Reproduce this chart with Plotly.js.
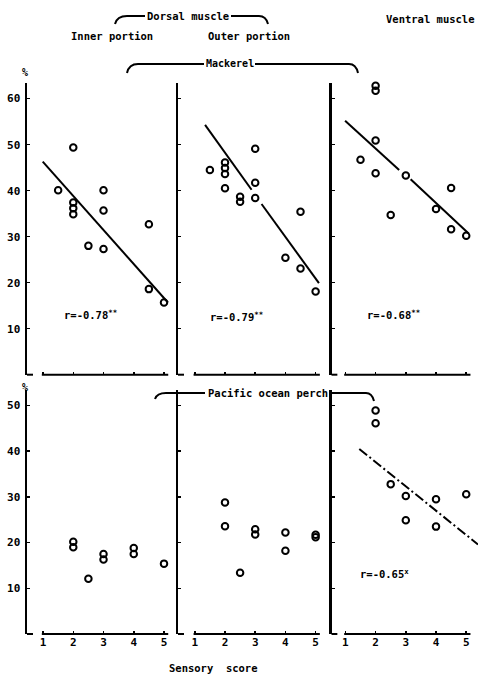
<!DOCTYPE html>
<html><head><meta charset="utf-8">
<script src="https://cdn.plot.ly/plotly-3.0.1.min.js"></script>
<style>body{margin:0;background:#fff}#chart{width:478px;height:675px}</style>
</head><body><div id="chart"></div>
<script>
// ---- tick labels ----
const scoreTicks = [1, 2, 3, 4, 5];
const mackerelYTicks = [10, 20, 30, 40, 50, 60];
const perchYTicks = [10, 20, 30, 40, 50];

// ---- Mackerel, dorsal inner portion ----
const mkInnerX = [1.5, 2, 2, 2, 2, 2.5, 3, 3, 3, 4.5, 4.5, 5];
const mkInnerY = [40.1, 49.4, 37.4, 36.2, 34.9, 28.0, 40.1, 35.7, 27.3, 32.7, 18.6, 15.7];
const mkInnerFitX = [0.99, 5.13];
const mkInnerFitY = [46.3, 15.7];

// ---- Mackerel, dorsal outer portion ----
const mkOuterX = [2, 1.5, 2, 2, 2, 2, 2.5, 2.5, 3, 3, 3, 4.5, 4, 4.5, 5];
const mkOuterY = [64.1, 44.5, 46.1, 44.9, 43.6, 40.5, 38.7, 37.6, 49.1, 41.7, 38.4, 35.4, 25.4, 23.1, 18.1];
const mkOuterFitX = [1.34, 2.88, null, 3.21, 5.11];
const mkOuterFitY = [54.3, 40.2, null, 37.1, 19.9];

// ---- Mackerel, ventral muscle ----
const mkVentX = [2, 2, 2, 1.5, 2, 2.5, 3, 4, 4.5, 4.5, 5];
const mkVentY = [62.8, 61.7, 50.9, 46.7, 43.8, 34.7, 43.3, 36.0, 40.6, 31.6, 30.2];
const mkVentFitX = [0.99, 2.78, null, 3.16, 5.08];
const mkVentFitY = [55.2, 44.5, null, 42.5, 30.7];

// ---- Pacific ocean perch, dorsal inner ----
const pInnerX = [2, 2, 2.5, 3, 3, 4, 4, 5];
const pInnerY = [20.2, 19.0, 12.1, 17.5, 16.3, 18.8, 17.5, 15.4];

// ---- Pacific ocean perch, dorsal outer ----
const pOuterX = [2, 2, 2.5, 3, 3, 4, 4, 5, 5];
const pOuterY = [28.8, 23.6, 13.4, 22.9, 21.8, 22.2, 18.2, 21.7, 21.2];

// ---- Pacific ocean perch, ventral ----
const pVentX = [2, 2, 2.5, 3, 3, 4, 4, 5];
const pVentY = [48.9, 46.1, 32.8, 30.2, 24.9, 29.5, 23.5, 30.6];
const pVentFitX = [1.46, 5.39];
const pVentFitY = [40.5, 19.6];

const rLabels = ['r=-0.78<sup>**</sup>', 'r=-0.79<sup>**</sup>', 'r=-0.68<sup>**</sup>', 'r=-0.65<sup>x</sup>'];

// ---- layout helpers ----
const W = 478, H = 675;
const FAM = 'DejaVu Sans Mono, monospace';
const font = (s) => ({family: FAM, size: s, color: '#000', weight: 'bold'});
const px = (x) => x / W;
const py = (y) => 1 - y / H;

const pts = (x, y, xa, ya) => ({
  x, y, xaxis: xa, yaxis: ya, type: 'scatter', mode: 'markers', cliponaxis: false,
  marker: {symbol: 'circle-open', size: 6.5, color: '#000', line: {width: 2, color: '#000'}},
  hoverinfo: 'skip', showlegend: false
});
const fit = (x, y, xa, ya, dash) => ({
  x, y, xaxis: xa, yaxis: ya, type: 'scatter', mode: 'lines', cliponaxis: true,
  line: {color: '#000', width: 2, dash: dash || 'solid'}, connectgaps: false,
  hoverinfo: 'skip', showlegend: false
});

const data = [
  pts(mkInnerX, mkInnerY, 'x', 'y'), fit(mkInnerFitX, mkInnerFitY, 'x', 'y'),
  pts(mkOuterX, mkOuterY, 'x2', 'y2'), fit(mkOuterFitX, mkOuterFitY, 'x2', 'y2'),
  pts(mkVentX, mkVentY, 'x3', 'y3'), fit(mkVentFitX, mkVentFitY, 'x3', 'y3'),
  pts(pInnerX, pInnerY, 'x4', 'y4'),
  pts(pOuterX, pOuterY, 'x5', 'y5'),
  pts(pVentX, pVentY, 'x6', 'y6'), fit(pVentFitX, pVentFitY, 'x6', 'y6', '10px,3px,2px,3px')
];

const colX = [
  {dom: [px(27), px(177)], range: [0.47, 5.43]},
  {dom: [px(178), px(328)], range: [0.444, 5.41]},
  {dom: [px(331.5), 1], range: [0.54, 5.39]}
];
const rowY = [
  {dom: [py(374.7), py(83)], range: [0, 63.4], ticks: mackerelYTicks},
  {dom: [py(634), py(390)], range: [0, 53.4], ticks: perchYTicks}
];

const layout = {
  width: W, height: H,
  margin: {l: 0, r: 0, t: 0, b: 0},
  paper_bgcolor: '#fff', plot_bgcolor: 'rgba(0,0,0,0)',
  showlegend: false,
  font: font(11),
  annotations: [], shapes: []
};

for (let r = 0; r < 2; r++) {
  for (let c = 0; c < 3; c++) {
    const i = r * 3 + c + 1;
    const xk = i === 1 ? 'xaxis' : 'xaxis' + i;
    const yk = i === 1 ? 'yaxis' : 'yaxis' + i;
    const xr = i === 1 ? 'x' : 'x' + i;
    const yr = i === 1 ? 'y' : 'y' + i;
    layout[xk] = {
      domain: colX[c].dom, range: colX[c].range, anchor: yr,
      showgrid: false, zeroline: false, showline: false,
      tickmode: 'array', tickvals: scoreTicks, ticktext: scoreTicks.map(String),
      ticks: 'inside', ticklen: 3, tickwidth: 1.5, tickcolor: '#000',
      showticklabels: r === 1, tickfont: font(11), fixedrange: true
    };
    layout[yk] = {
      domain: rowY[r].dom, range: rowY[r].range, anchor: xr,
      showgrid: false, zeroline: false, showline: true, linecolor: '#000', linewidth: 2.5,
      tickmode: 'array', tickvals: rowY[r].ticks, ticktext: rowY[r].ticks.map(String),
      ticks: 'inside', ticklen: 3, tickwidth: 1.5, tickcolor: '#000',
      showticklabels: c === 0, tickfont: font(11), ticklabelstandoff: 2, fixedrange: true
    };
    // x axis base line (starts just before tick 1, with a short foot at the y axis)
    layout.shapes.push({type: 'line', xref: xr, yref: yr + ' domain', x0: 0.96, x1: 5.14, y0: 0, y1: 0,
      line: {color: '#000', width: 2}});
    layout.shapes.push({type: 'line', xref: xr + ' domain', yref: yr + ' domain', x0: 0, x1: 0.04, y0: 0, y1: 0,
      line: {color: '#000', width: 2}});
  }
}

// correlation labels
const rPos = [['x', 'y', 1.63, 13], ['x2', 'y2', 1.44, 12.6], ['x3', 'y3', 1.65, 13], ['x6', 'y6', 1.42, 13.3]];
rPos.forEach((p, k) => layout.annotations.push({
  xref: p[0], yref: p[1], x: p[2], y: p[3], text: rLabels[k], showarrow: false,
  xanchor: 'left', yanchor: 'middle', font: font(10.5)
}));

// header texts
const txt = (t, x, y, s) => layout.annotations.push({
  xref: 'paper', yref: 'paper', x: px(x), y: py(y), text: t, showarrow: false,
  xanchor: 'center', yanchor: 'middle', font: font(s || 10.5)
});
txt('Dorsal muscle', 187.5, 16);
txt('Inner portion', 111.5, 36);
txt('Outer portion', 248.5, 36);
txt('Ventral muscle', 430, 19);
txt('Mackerel', 229.5, 63, 10);
txt('Pacific ocean perch', 267.5, 393);
txt('Sensory\u00a0\u00a0score', 213.5, 668);
txt('%', 25, 72, 10);
txt('%', 25, 387, 10);

// bracket paths (pixel coordinates converted to paper)
const P = (cmds) => cmds.map(c => c[0] + ' ' + c.slice(1).reduce((a, v, j) =>
  a.concat(j % 2 === 0 ? px(v).toFixed(5) : py(v).toFixed(5)), []).join(',').replace(/,(?=[0-9.]+,[0-9.]+$)/, ' ').replace(/(\d),(\d)/g, '$1,$2')).join(' ');
function pathStr(cmds) {
  return cmds.map(c => {
    const cmd = c[0]; const v = c.slice(1); const parts = [];
    for (let j = 0; j < v.length; j += 2) parts.push(px(v[j]).toFixed(5) + ',' + py(v[j + 1]).toFixed(5));
    return cmd + parts.join(' ');
  }).join(' ');
}
const bracket = (cmds) => layout.shapes.push({type: 'path', xref: 'paper', yref: 'paper',
  path: pathStr(cmds), line: {color: '#000', width: 2}});
bracket([['M', 115, 24], ['Q', 117, 16, 127, 16], ['L', 145, 16]]);
bracket([['M', 231, 16], ['L', 259, 16], ['Q', 266, 16, 268, 24]]);
bracket([['M', 127, 73], ['Q', 129, 64, 138, 64], ['L', 204, 64]]);
bracket([['M', 255, 64], ['L', 349, 64], ['Q', 356, 64, 358, 73]]);
bracket([['M', 155, 399], ['Q', 157, 393, 166, 393], ['L', 205, 393]]);
bracket([['M', 331, 393], ['L', 366, 393], ['Q', 372, 393, 374, 401]]);

Plotly.newPlot('chart', data, layout, {staticPlot: true, displayModeBar: false});
</script>
</body></html>
